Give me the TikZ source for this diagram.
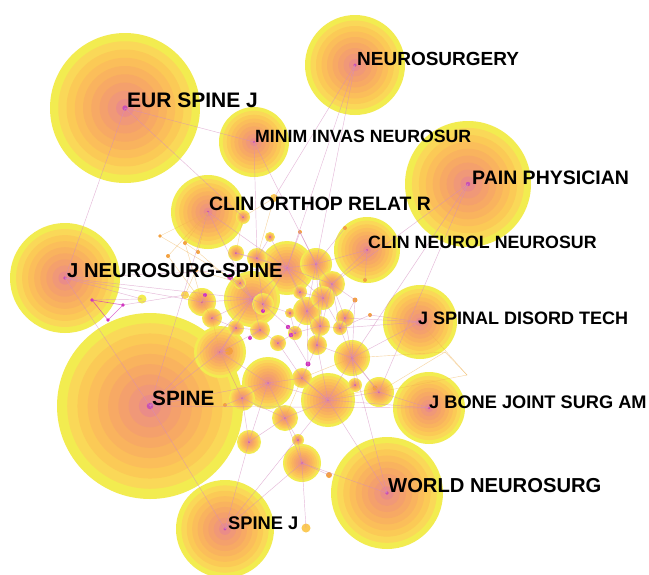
\documentclass[tikz,border=0pt]{standalone}
\usepackage{fontspec}
\setmainfont{Liberation Sans}
\definecolor{r1}{HTML}{F2EC50}
\definecolor{r2}{HTML}{FAD858}
\definecolor{r3}{HTML}{FBCA56}
\definecolor{r4}{HTML}{FBBE5A}
\definecolor{r5}{HTML}{F9B35E}
\definecolor{r6}{HTML}{F7A964}
\definecolor{r7}{HTML}{F4A06C}
\definecolor{r8}{HTML}{F09878}
\definecolor{r9}{HTML}{EA8C88}
\definecolor{rc}{HTML}{C850B4}
\definecolor{edgep}{HTML}{D48CC0}
\definecolor{edgeo}{HTML}{F0B050}
\definecolor{mag}{HTML}{D030C0}
\definecolor{dotor}{HTML}{F4A040}
\newcommand\jnode[4]{%
  \coordinate (#1) at (#2,#3);
  \foreach \s/\c in {1/r1,0.89/r2,0.78/r3,0.67/r4,0.56/r5,0.45/r6,0.34/r7,0.23/r8,0.12/r9}{%
    \fill[\c] (#2,#3) circle ({#4*\s});}
  \fill[rc] (#2,#3) circle ({max(1,0.035*#4)});
}
\newcommand\jdot[5]{%
  \coordinate (#1) at (#2,#3);
  \fill[#5] (#2,#3) circle (#4);
}
\tikzset{
  edgeP/.style={draw=edgep, line width=0.45pt, opacity=0.6},
  edgeO/.style={draw=edgeo, line width=0.4pt, opacity=0.55},
  edgeM/.style={draw=mag, line width=0.6pt, opacity=0.7},
  lab/.style={anchor=west, inner sep=0pt, text=black}
}
\begin{document}
\begin{tikzpicture}[x=1pt,y=-1pt]
\fill[white] (0,0) rectangle (649,574);
\useasboundingbox (0,0) rectangle (649,574);
% main journals
\jnode{jns}{65}{278}{55}
\jnode{eur}{125}{108}{75}
\jnode{neuro}{355}{65}{50}
\jnode{minim}{254}{142}{35}
\jnode{orthop}{208}{212}{37}
\jnode{pain}{468}{184}{63}
\jnode{clin}{367}{250}{33}
\jnode{jsdt}{420}{322}{37}
\jnode{jbjs}{429}{408}{36}
\jnode{world}{387}{493}{56}
\jnode{spinej}{225}{529}{49}
\jnode{spine}{150}{406}{93}
% cluster
\jnode{c1}{287}{268}{27}
\jnode{c2}{252}{299}{28}
\jnode{c11}{220}{352}{26}
\jnode{c15}{268}{383}{26}
\jnode{c16}{328}{400}{27}
\jnode{c28}{302}{463}{19}
\jnode{c13}{352}{358}{18}
\jnode{c3}{316}{264}{16}
\jnode{c18}{379}{392}{15}
\jnode{c7}{202}{302}{14}
\jnode{c6}{307}{311}{14}
\jnode{c4}{332}{284}{13}
\jnode{c17}{285}{418}{13}
\jnode{c20}{242}{398}{13}
\jnode{c5}{323}{298}{12}
\jnode{c21}{249}{442}{12}
\jnode{c9}{263}{304}{11}
\jnode{c8}{212}{318}{10}
\jnode{c10}{260}{330}{10}
\jnode{c12}{320}{326}{10}
\jnode{c14}{317}{345}{10}
\jnode{c24}{302}{378}{10}
\jnode{c27}{257}{258}{10}
\jnode{c31}{345}{318}{9}
\jnode{c32}{236}{328}{8}
\jnode{c33}{300}{292}{7}
\jnode{c34}{355}{385}{7}
\jnode{c23}{278}{343}{8}
\jnode{c25}{236}{253}{8}
\jnode{c29}{243}{217}{7}
\jnode{c22}{295}{333}{7}
\jnode{c19}{340}{328}{7}
\jnode{c26}{240}{283}{6}
\jnode{c30}{290}{313}{5}
\jnode{c35}{270}{237}{5}
\jnode{c36}{298}{440}{6}
% small dots
\jdot{d1}{274}{198}{4}{r3}
\jdot{d2}{185}{295}{4}{r2}
\jdot{d3}{142}{299}{4.5}{r1}
\jdot{d4}{229}{351}{4}{dotor}
\jdot{d5}{306}{528}{4.5}{r3}
\jdot{d6}{329}{475}{3}{dotor}
\jdot{d7}{355}{300}{2.5}{dotor}
\jdot{d8}{185}{243}{2}{dotor}
\jdot{d9}{168}{256}{2}{dotor}
\jdot{d10}{198}{252}{2}{dotor}
\jdot{d11}{160}{236}{1.8}{dotor}
\jdot{d12}{300}{232}{2}{dotor}
\jdot{d13}{345}{228}{2}{dotor}
\jdot{d14}{370}{315}{2}{dotor}
\jdot{d15}{375}{388}{2.5}{dotor}
\jdot{d16}{225}{405}{2}{dotor}
\jdot{d17}{365}{280}{2}{dotor}
\jdot{d18}{196}{270}{2}{dotor}
\jdot{m1}{288}{327}{2.2}{mag}
\jdot{m2}{291}{335}{2.2}{mag}
\jdot{m3}{250}{338}{2}{mag}
\jdot{m4}{308}{364}{2.5}{mag}
\jdot{m5}{263}{311}{2}{mag}
\jdot{m6}{205}{295}{2}{mag}
\jdot{m7}{230}{277}{3}{mag}
\jdot{t1}{92}{300}{1.8}{mag}
\jdot{t2}{123}{305}{1.8}{mag}
\jdot{t3}{108}{320}{1.8}{mag}
\coordinate (y1) at (467,375);
\coordinate (y2) at (445,352);
% long edges
\draw[edgeP] (eur) -- (jns);
\draw[edgeP] (eur) -- (minim);
\draw[edgeP] (eur) -- (c29);
\draw[edgeP] (jns) -- (spine);
\draw[edgeP] (jns) -- (c2);
\draw[edgeP] (jns) -- (c7);
\draw[edgeP] (jns) -- (c1);
\draw[edgeP] (jns) -- (d3);
\draw[edgeP] (spine) -- (orthop);
\draw[edgeP] (spine) -- (spinej);
\draw[edgeP] (spine) -- (jbjs);
\draw[edgeP] (spine) -- (c15);
\draw[edgeP] (spine) -- (c11);
\draw[edgeP] (spine) -- (c2);
\draw[edgeP] (neuro) -- (c1);
\draw[edgeP] (neuro) -- (c3);
\draw[edgeP] (neuro) -- (d1);
\draw[edgeP] (minim) -- (c3);
\draw[edgeP] (minim) -- (c27);
\draw[edgeP] (orthop) -- (c2);
\draw[edgeP] (orthop) -- (c1);
\draw[edgeP] (pain) -- (c13);
\draw[edgeP] (pain) -- (c18);
\draw[edgeP] (pain) -- (c4);
\draw[edgeP] (clin) -- (c3);
\draw[edgeP] (clin) -- (c4);
\draw[edgeP] (clin) -- (d17);
\draw[edgeP] (jsdt) -- (c13);
\draw[edgeP] (jsdt) -- (c19);
\draw[edgeP] (jsdt) -- (d14);
\draw[edgeP] (jbjs) -- (c18);
\draw[edgeP] (jbjs) -- (c16);
\draw[edgeP] (world) -- (c16);
\draw[edgeP] (world) -- (c28);
\draw[edgeP] (world) -- (c13);
\draw[edgeP] (spinej) -- (c28);
\draw[edgeP] (spinej) -- (c21);
\draw[edgeP] (spinej) -- (c16);
\draw[edgeP] (c28) -- (d5);
\draw[edgeP] (c28) -- (d6);
% cluster edges
\foreach \a/\b in {c1/c2,c1/c3,c1/c4,c1/c5,c1/c6,c1/c27,c1/c25,c2/c7,c2/c8,c2/c9,c2/c10,c2/c11,c2/c26,
  c3/c4,c3/c5,c4/c5,c4/c19,c5/c6,c5/c12,c6/c12,c6/c22,c6/c14,c9/c22,c10/c23,c10/c11,c11/c15,c11/c20,
  c12/c14,c12/c19,c13/c14,c13/c16,c13/c18,c13/c19,c14/c24,c15/c16,c15/c17,c15/c24,c15/c20,c16/c17,
  c16/c18,c16/c24,c17/c21,c17/c28,c20/c21,c22/c23,c23/c24,c22/c30,c30/c9,c27/c25,c27/c9,c3/d13,c4/d7,
  d7/c19,d7/c13,c19/d14,c13/d15,c6/m4,c22/m1,m1/m2,m2/m4,c10/m3,c9/m5,c7/m6,c2/m7,c26/m7,c12/c22,
  c3/c12,c4/c14,c5/c19,c24/c16,c21/c15,c20/c17,c1/c9,c3/c6,c14/c16,d12/c1,d12/c3,c11/d4,c20/d16,
  c31/c19,c31/c13,c31/c4,c32/c10,c32/c11,c33/c1,c33/c6,c34/c13,c34/c16,c35/c1,c35/c27,c36/c28,c36/c17,
  c31/jsdt,c33/c5,c32/c8}{
  \draw[edgeP] (\a) -- (\b);}
\foreach \a/\b in {orthop/d8,orthop/d9,orthop/d10,orthop/d11,d8/c7,d9/c7,d10/c2,d11/c26,d8/d10,
  c7/d2,d2/d18,d18/c26,c29/c25,c29/d1,d1/c27,c13/y2,c18/y1,y1/y2,jsdt/y1,c18/y2,c16/d15,c24/c13,
  c17/c24,c8/c11,c8/c7,c11/c20}{
  \draw[edgeO] (\a) -- (\b);}
\draw[edgeM] (t1) -- (t2) -- (t3) -- (t1);
\draw[edgeP] (t2) -- (d2);
\draw[edgeP] (t1) -- (d3);
% labels
\node[lab, font=\fontsize{21}{21}\selectfont\bfseries] (leur) at (127,100) {EUR SPINE J};
\node[lab, font=\fontsize{19}{19}\selectfont\bfseries] (lneuro) at (357,59) {NEUROSURGERY};
\node[lab, font=\fontsize{17.7}{18}\selectfont\bfseries] (lminim) at (255,136) {MINIM INVAS NEUROSUR};
\node[lab, font=\fontsize{19.5}{20}\selectfont\bfseries] (lpain) at (472,178) {PAIN PHYSICIAN};
\node[lab, font=\fontsize{19.4}{20}\selectfont\bfseries] (lorthop) at (209,204) {CLIN ORTHOP RELAT R};
\node[lab, font=\fontsize{17.8}{18}\selectfont\bfseries] (lclin) at (368,242) {CLIN NEUROL NEUROSUR};
\node[lab, font=\fontsize{20.2}{20}\selectfont\bfseries] (ljns) at (67,271) {J NEUROSURG-SPINE};
\node[lab, font=\fontsize{18}{18}\selectfont\bfseries] (ljsdt) at (418,318) {J SPINAL DISORD TECH};
\node[lab, font=\fontsize{20.7}{21}\selectfont\bfseries] (lspine) at (152,398) {SPINE};
\node[lab, font=\fontsize{18.2}{18}\selectfont\bfseries] (ljbjs) at (429,402) {J BONE JOINT SURG AM};
\node[lab, font=\fontsize{20.2}{20}\selectfont\bfseries] (lworld) at (388,486) {WORLD NEUROSURG};
\node[lab, font=\fontsize{18.3}{18}\selectfont\bfseries] (lspinej) at (228,523) {SPINE J};
\end{tikzpicture}
\end{document}
